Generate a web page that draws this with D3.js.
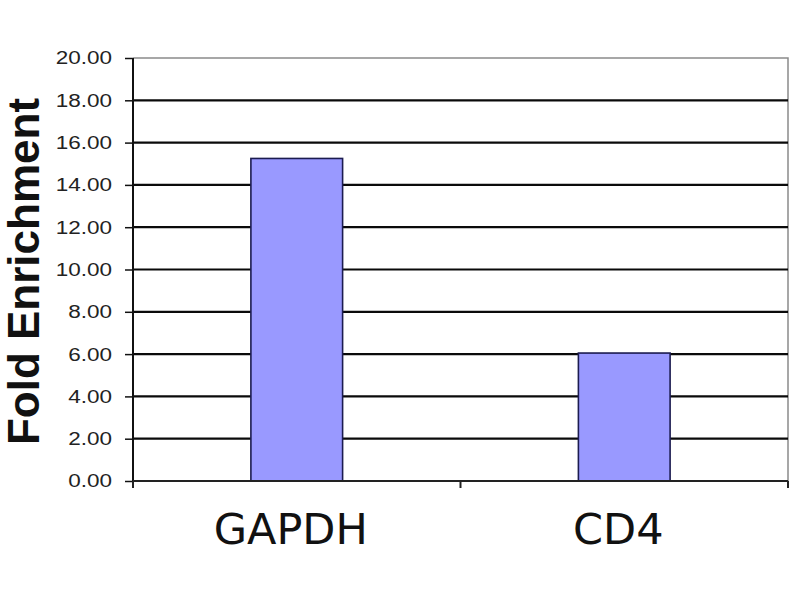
<!DOCTYPE html>
<html>
<head>
<meta charset="utf-8">
<script src="https://cdn.jsdelivr.net/npm/d3@7"></script>
<style>
  body { margin: 0; background: #fff; }
  svg { display: block; }
</style>
</head>
<body>
<div id="chart"></div>
<script>
let categories = ["GAPDH", "CD4"]
let fold_values = [15.25, 6.05]
let y_ticks = [0, 2, 4, 6, 8, 10, 12, 14, 16, 18, 20]
let y_title = "Fold Enrichment"

let w = 800
let h = 600
let margin = {top: 58, right: 12, bottom: 119, left: 133}

let svg = d3.select("#chart")
    .append("svg")
    .attr("width", w)
    .attr("height", h)

let x = d3.scaleBand()
    .domain(categories)
    .range([margin.left, w - margin.right])
    .paddingInner(0.72)
    .paddingOuter(0.36)

let y = d3.scaleLinear()
    .domain([0, 20])
    .range([h - margin.bottom, margin.top])

// plot border (top + right, grey)
svg.append("path")
    .attr("d", `M${x.range()[0]},${y(20)}H${x.range()[1]}V${y(0)}`)
    .attr("fill", "none")
    .attr("stroke", "#8a8a8a")
    .attr("stroke-width", 1.5)

// gridlines
svg.selectAll(".grid")
    .data(y_ticks.filter(d => d > 0 && d < 20))
    .enter()
    .append("line")
    .attr("class", "grid")
    .attr("x1", x.range()[0])
    .attr("x2", x.range()[1])
    .attr("y1", d => y(d))
    .attr("y2", d => y(d))
    .attr("stroke", "#0a0a0a")
    .attr("stroke-width", 2.2)

// bars
svg.selectAll(".bar")
    .data(fold_values)
    .enter()
    .append("rect")
    .attr("class", "bar")
    .attr("x", (d, i) => x(categories[i]))
    .attr("y", d => y(d))
    .attr("width", x.bandwidth())
    .attr("height", d => y(0) - y(d))
    .attr("fill", "#9999ff")
    .attr("stroke", "#1c1c50")
    .attr("stroke-width", 1.6)

// y axis
let yAxis = d3.axisLeft(y)
    .tickValues(y_ticks)
    .tickSize(8)
    .tickFormat(d => "")

svg.append("g")
    .attr("transform", `translate(${margin.left},0)`)
    .call(yAxis)
    .call(g => g.select(".domain").attr("stroke", "#111").attr("stroke-width", 2).attr("d", `M0,${y(20)}V${y(0) + 7}`))
    .call(g => g.selectAll(".tick line").attr("stroke", "#111").attr("stroke-width", 1.5))

svg.selectAll(".ylab")
    .data(y_ticks)
    .enter()
    .append("text")
    .attr("class", "ylab")
    .attr("transform", d => `translate(112,${y(d)}) scale(1.25,1)`)
    .attr("dy", "0.36em")
    .attr("text-anchor", "end")
    .attr("font-family", "Liberation Sans, Arial, sans-serif")
    .attr("font-size", 18)
    .attr("fill", "#222")
    .text(d => d.toFixed(2))

// x axis
svg.append("line")
    .attr("x1", x.range()[0])
    .attr("x2", x.range()[1])
    .attr("y1", y(0))
    .attr("y2", y(0))
    .attr("stroke", "#222")
    .attr("stroke-width", 2)

// category boundaries: left edge, between bands, right edge
let boundaries = [x.range()[0], ...categories.map(c => x(c) + x.bandwidth() + x.step() * x.paddingInner() / 2)]
boundaries[boundaries.length - 1] = x.range()[1]

svg.selectAll(".xtick")
    .data(boundaries)
    .enter()
    .append("line")
    .attr("class", "xtick")
    .attr("x1", d => d)
    .attr("x2", d => d)
    .attr("y1", y(0))
    .attr("y2", y(0) + 7)
    .attr("stroke", "#222")
    .attr("stroke-width", 2)

svg.selectAll(".xlab")
    .data(categories)
    .enter()
    .append("text")
    .attr("class", "xlab")
    .attr("x", d => x(d) + x.bandwidth() / 2 - 6)
    .attr("y", 544)
    .attr("text-anchor", "middle")
    .attr("font-family", "DejaVu Sans, Verdana, sans-serif")
    .attr("font-size", 43)
    .attr("fill", "#111")
    .text(d => d)

// y title
svg.append("text")
    .attr("transform", `translate(39,${(y(0) + y(20)) / 2 + 2}) rotate(-90)`)
    .attr("text-anchor", "middle")
    .attr("font-family", "Liberation Sans, Arial, sans-serif")
    .attr("font-weight", "bold")
    .attr("font-size", 44)
    .attr("fill", "#111")
    .text(y_title)
</script>
</body>
</html>
